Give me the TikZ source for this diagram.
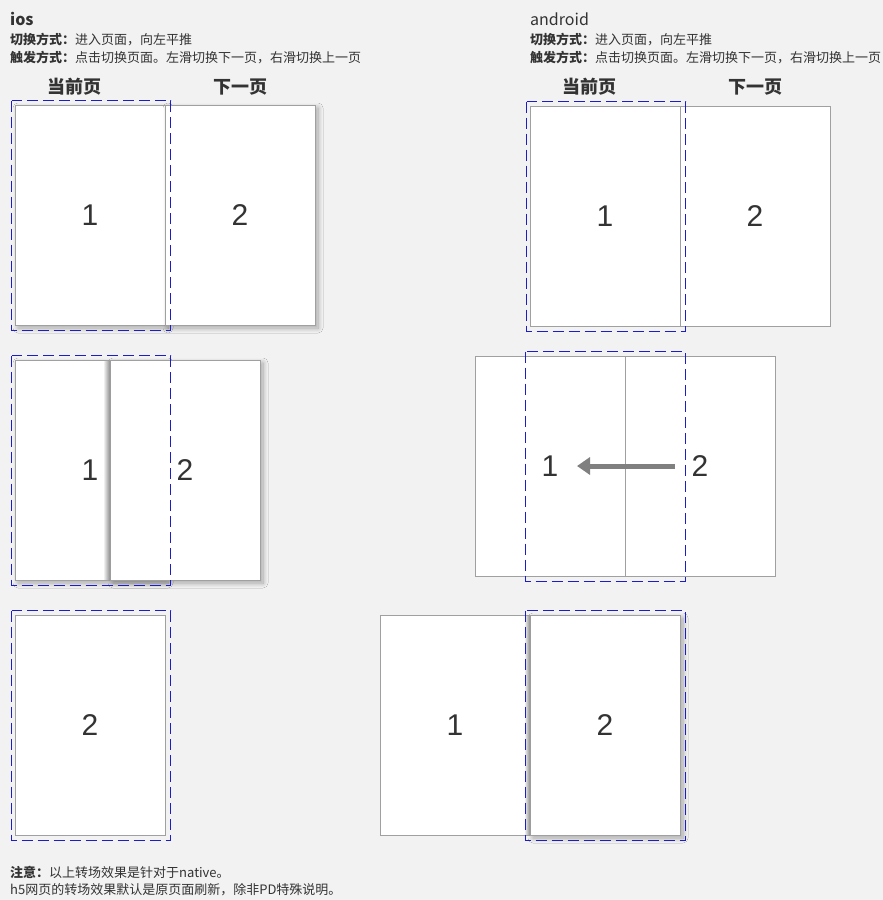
\documentclass[tikz,border=0pt]{standalone}
\usepackage{fontspec}
\setmainfont{Noto Sans CJK SC}
\newfontfamily\digitfont{Liberation Sans}
\usepackage{tikz}
\usetikzlibrary{arrows.meta,shadows.blur}
\usepackage{xcolor}
\definecolor{bgcol}{HTML}{F2F2F2}
\definecolor{pageline}{HTML}{A0A0A0}
\definecolor{framecol}{HTML}{1C1CC8}
\definecolor{numcol}{HTML}{333333}
\definecolor{arrowcol}{HTML}{808080}

\begin{document}
\begin{tikzpicture}[x=1pt,y=-1pt,
  page/.style={draw=pageline, fill=white, line width=1pt, minimum width=150pt, minimum height=220pt, inner sep=0pt, font=\digitfont\fontsize{30}{30}\selectfont, text=numcol},
  shadowed/.style={blur shadow={shadow xshift=3pt, shadow yshift=-3pt, shadow blur steps=10, shadow blur radius=5pt, shadow opacity=32}},
  frame/.style={draw=framecol, line width=1pt, dash pattern=on 11pt off 5pt},
  title/.style={anchor=west, inner sep=0pt, text=numcol, font=\fontsize{16}{18}\selectfont},
  info/.style={anchor=west, inner sep=0pt, text=numcol, font=\fontsize{13}{15}\selectfont},
  head/.style={inner sep=0pt, text=numcol, font=\bfseries\fontsize{18}{20}\selectfont},
  swipe/.style={draw=arrowcol, line width=5pt, -{Triangle[length=13pt,width=17pt]}}]
\useasboundingbox (0,0) rectangle (883,900);
\fill[bgcol] (0,0) rectangle (883,900);

% ios - header
\node[title] (iosTitle) at (10,19) {\textbf{ios}};
\node[info] (iosMode) at (10,40) {\textbf{切换方式：}进入页面，向左平推};
\node[info] (iosTrigger) at (10,58) {\textbf{触发方式：}点击切换页面。左滑切换下一页，右滑切换上一页};
\node[head] (iosCur) at (74,87) {当前页};
\node[head] (iosNext) at (240,87) {下一页};

% ios - step 1
\node[page, shadowed] (ia1) at (90,215) {1};
\node[page, shadowed] (ia2) at (240,215) {2};
\draw[frame] (11.5,100.5) rectangle (170.5,330.5);

% ios - step 2
\node[page, shadowed] (ib1) at (90,470) {1};
\node[page, shadowed] (ib2) at (185,470) {2};
\shade[left color=white, right color=black!45] (103,361) rectangle (110,579);
\draw[frame] (11.5,355.5) rectangle (170.5,585.5);

% ios - step 3
\node[page] (ic2) at (90,725) {2};
\draw[frame] (11.5,610.5) rectangle (170.5,840.5);

% android - header
\node[title] (andTitle) at (530,19) {android};
\node[info] (andMode) at (530,40) {\textbf{切换方式：}进入页面，向左平推};
\node[info] (andTrigger) at (530,58) {\textbf{触发方式：}点击切换页面。左滑切换下一页，右滑切换上一页};
\node[head] (andCur) at (589,87) {当前页};
\node[head] (andNext) at (755,87) {下一页};

% android - step 1
\node[page] (aa1) at (605,216) {1};
\node[page] (aa2) at (755,216) {2};
\draw[frame] (526.5,101.5) rectangle (685.5,331.5);

% android - step 2
\node[page] (ab1) at (550,466) {1};
\node[page] (ab2) at (700,466) {2};
\draw[swipe] ([xshift=-25pt]ab2.center) -- ([xshift=27pt]ab1.center);
\draw[frame] (525.5,351.5) rectangle (685.5,581.5);

% android - step 3
\node[page] (ac1) at (455,725) {1};
\node[page, shadowed] (ac2) at (605,725) {2};
\shade[left color=white, right color=black!45] (524,616) rectangle (530,834);
\draw[frame] (525.5,610.5) rectangle (685.5,840.5);

% note
\node[info] (note1) at (10,872) {\textbf{注意：}以上转场效果是针对于native。};
\node[info] (note2) at (10,890) {h5网页的转场效果默认是原页面刷新，除非PD特殊说明。};
\end{tikzpicture}
\end{document}
